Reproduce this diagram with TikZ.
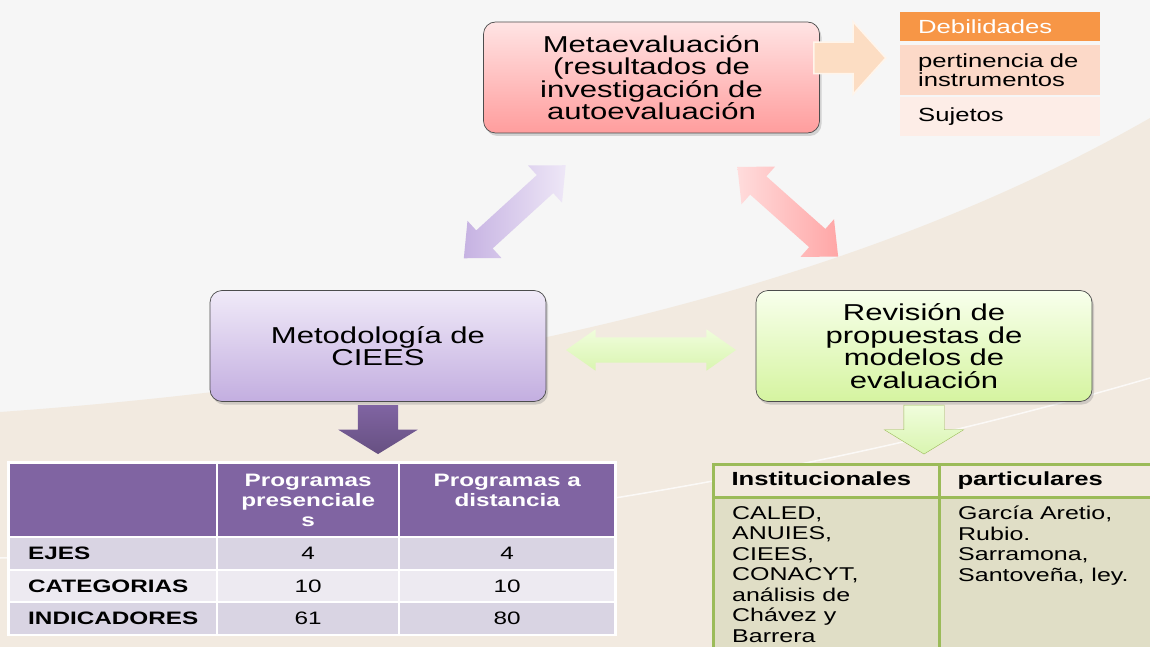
\documentclass[tikz,border=0pt]{standalone}
\usepackage{fontspec}
\setmainfont{Liberation Sans}[FakeStretch=1.35]
\usetikzlibrary{positioning,calc,shapes.arrows,shadows}

\definecolor{bgtop}{HTML}{F6F6F6}
\definecolor{bgsand}{HTML}{F2EAE0}
\definecolor{metatop}{HTML}{FFE4E4}
\definecolor{metabot}{HTML}{FF9D9D}
\definecolor{ciestop}{HTML}{F0EAF8}
\definecolor{ciesbot}{HTML}{C3AEE0}
\definecolor{revtop}{HTML}{F8FFEC}
\definecolor{revbot}{HTML}{D5F4A0}
\definecolor{debhead}{HTML}{F79646}
\definecolor{debrow}{HTML}{FCD9C8}
\definecolor{debrowlight}{HTML}{FDEDE7}
\definecolor{tabpurple}{HTML}{8064A2}
\definecolor{rowdark}{HTML}{D9D4E3}
\definecolor{rowlight}{HTML}{EDEAF1}
\definecolor{tabgreen}{HTML}{9BBB59}
\definecolor{tabolive}{HTML}{E0DEC6}
\definecolor{arrowlilac}{HTML}{C6B2E2}
\definecolor{arrowlilaclight}{HTML}{EEE7F7}
\definecolor{arrowrose}{HTML}{FFA6A6}
\definecolor{arrowroselight}{HTML}{FFDCDC}
\definecolor{arrowlime}{HTML}{D9F5B0}
\definecolor{arrowlimelight}{HTML}{F0FDDC}
\definecolor{arrowpeach}{HTML}{FCDDC3}

\begin{document}
\begin{tikzpicture}[x=1pt,y=-1pt,
    box/.style={rectangle, rounded corners=12pt, draw=black!70, line width=0.7pt,
      minimum width=336pt, minimum height=111pt, align=center,
      font=\fontsize{23}{22.5}\selectfont,
      drop shadow={shadow xshift=2pt, shadow yshift=-3pt, opacity=0.3}},
    debcell/.style={rectangle, anchor=north west, minimum width=200pt, inner xsep=18pt,
      text width=164pt, align=left, font=\fontsize{19}{19.5}\selectfont},
    cell/.style={rectangle, anchor=north west, inner sep=0pt, minimum height=30.5pt,
      font=\fontsize{18}{20}\selectfont},
    greencell/.style={rectangle, anchor=north west, draw=tabgreen, line width=3pt,
      minimum width=226pt, inner xsep=18pt, text width=190pt, align=left,
      text height=13pt, text depth=4pt, font=\fontsize{19}{20}\selectfont\bfseries},
    bigarrow/.style={double arrow, inner xsep=0pt, inner ysep=12pt,
      double arrow head extend=13pt, double arrow tip angle=84},
    downarrow/.style={single arrow, inner xsep=0pt, inner ysep=20pt, rotate=-90, anchor=tail,
      minimum height=49pt, single arrow head extend=19.5pt, single arrow tip angle=117}
  ]
  % Background
  \useasboundingbox (0,0) rectangle (1150,647);
  \fill[bgtop] (0,0) rectangle (1150,647);
  \fill[bgsand] (0,412) .. controls (450,380) and (850,290) .. (1150,118) -- (1150,647) -- (0,647) -- cycle;
  \draw[white, line width=1.5pt, opacity=0.75] (0,558) .. controls (400,545) and (800,480) .. (1150,378);

  % Nodes
  \node (meta) [box, top color=metatop, bottom color=metabot] at (651.5,77.5)
    {Metaevaluación\\(resultados de\\investigación de\\autoevaluación};
  \node (cieesbox) [box, top color=ciestop, bottom color=ciesbot] at (378,346)
    {Metodología de\\CIEES};
  \node (revision) [box, top color=revtop, bottom color=revbot] at (924,346)
    {Revisión de\\propuestas de\\modelos de\\evaluación};

  \node (debil) [debcell, fill=debhead, text=white, minimum height=29pt] at (900,12) {Debilidades};
  \node (pertinencia) [debcell, fill=debrow, minimum height=50pt] at (900,45) {pertinencia de\\instrumentos};
  \node (sujetos) [debcell, fill=debrowlight, minimum height=39pt] at (900,97) {Sujetos};

  % left table
  \fill[white] (7,461) rectangle (617,636);
  \node (corner) [cell, fill=tabpurple, minimum width=206pt, minimum height=72pt] at (10,464) {};
  \node (presencial) [cell, fill=tabpurple, minimum width=180pt, minimum height=72pt] at (218,464) {};
  \node (distancia) [cell, fill=tabpurple, minimum width=214pt, minimum height=72pt] at (400,464) {};
  \node (presenciallab) [below=7pt of presencial.north, align=center, text=white,
    font=\fontsize{18}{20}\selectfont\bfseries] {Programas\\presenciale\\s};
  \node (distancialab) [below=7pt of distancia.north, align=center, text=white,
    font=\fontsize{18}{20}\selectfont\bfseries] {Programas a\\distancia};
  \foreach \name/\lab/\pres/\dist/\top/\shade in
      {ejes/EJES/4/4/538/rowdark, cat/CATEGORIAS/10/10/570.5/rowlight, ind/INDICADORES/61/80/603/rowdark} {
    \node (\name) [cell, fill=\shade, minimum width=206pt, inner xsep=18pt, text width=170pt,
      align=left, font=\fontsize{18}{20}\selectfont\bfseries] at (10,\top) {\lab};
    \node (\name-pres) [cell, fill=\shade, minimum width=180pt] at (218,\top) {\pres};
    \node (\name-dist) [cell, fill=\shade, minimum width=214pt] at (400,\top) {\dist};
  }

  % right table
  \node (insthead) [greencell, fill=bgsand, minimum height=33pt] at (712,463) {Institucionales};
  \node (parthead) [greencell, fill=bgsand, minimum height=33pt] at (938,463) {particulares};
  \node (instbody) [greencell, fill=tabolive, minimum height=170pt] at (712,496) {};
  \node (partbody) [greencell, fill=tabolive, minimum height=170pt] at (938,496) {};
  \node (instlist) [below right=0pt of instbody.north west, inner xsep=20pt, inner ysep=10pt,
    align=left, font=\fontsize{18.5}{20.5}\selectfont]
    {CALED,\\ANUIES,\\CIEES,\\CONACYT,\\análisis de\\Chávez y\\Barrera};
  \node (partlist) [below right=0pt of partbody.north west, inner xsep=20pt, inner ysep=10pt,
    align=left, font=\fontsize{18.5}{20.5}\selectfont]
    {García Aretio,\\Rubio.\\Sarramona,\\Santoveña, ley.};

  % Arrows
  \node (metaciees) [bigarrow, rotate=42.4, minimum height=138pt, left color=arrowlilac,
    right color=arrowlilaclight] at ($(cieesbox)!0.5!(meta)$) {};
  \node (metarev) [bigarrow, rotate=-41.7, minimum height=135pt, left color=arrowroselight,
    right color=arrowrose] at ($(meta)!0.5!(revision)$) {};
  \node (cieesrev) [bigarrow, minimum height=170pt, inner ysep=12.5pt, double arrow head extend=8pt,
    double arrow tip angle=70, top color=arrowlimelight, bottom color=arrowlime]
    at ($(cieesbox)!0.5!(revision)+(0,4)$) {};
  \node (debilarrow) [single arrow, inner xsep=0pt, inner ysep=15pt, anchor=tail, minimum height=72pt,
    single arrow head extend=20.5pt, single arrow tip angle=96, fill=arrowpeach, draw=orange!8,
    line width=1.5pt] at (813,58) {};
  \node (cieesdown) [downarrow, top color=tabpurple, bottom color=tabpurple!80!black]
    at ($(cieesbox.south)+(0,3)$) {};
  \node (revdown) [downarrow, top color=arrowlimelight, bottom color=arrowlime, draw=tabgreen]
    at ($(revision.south)+(0,3)$) {};
\end{tikzpicture}
\end{document}
